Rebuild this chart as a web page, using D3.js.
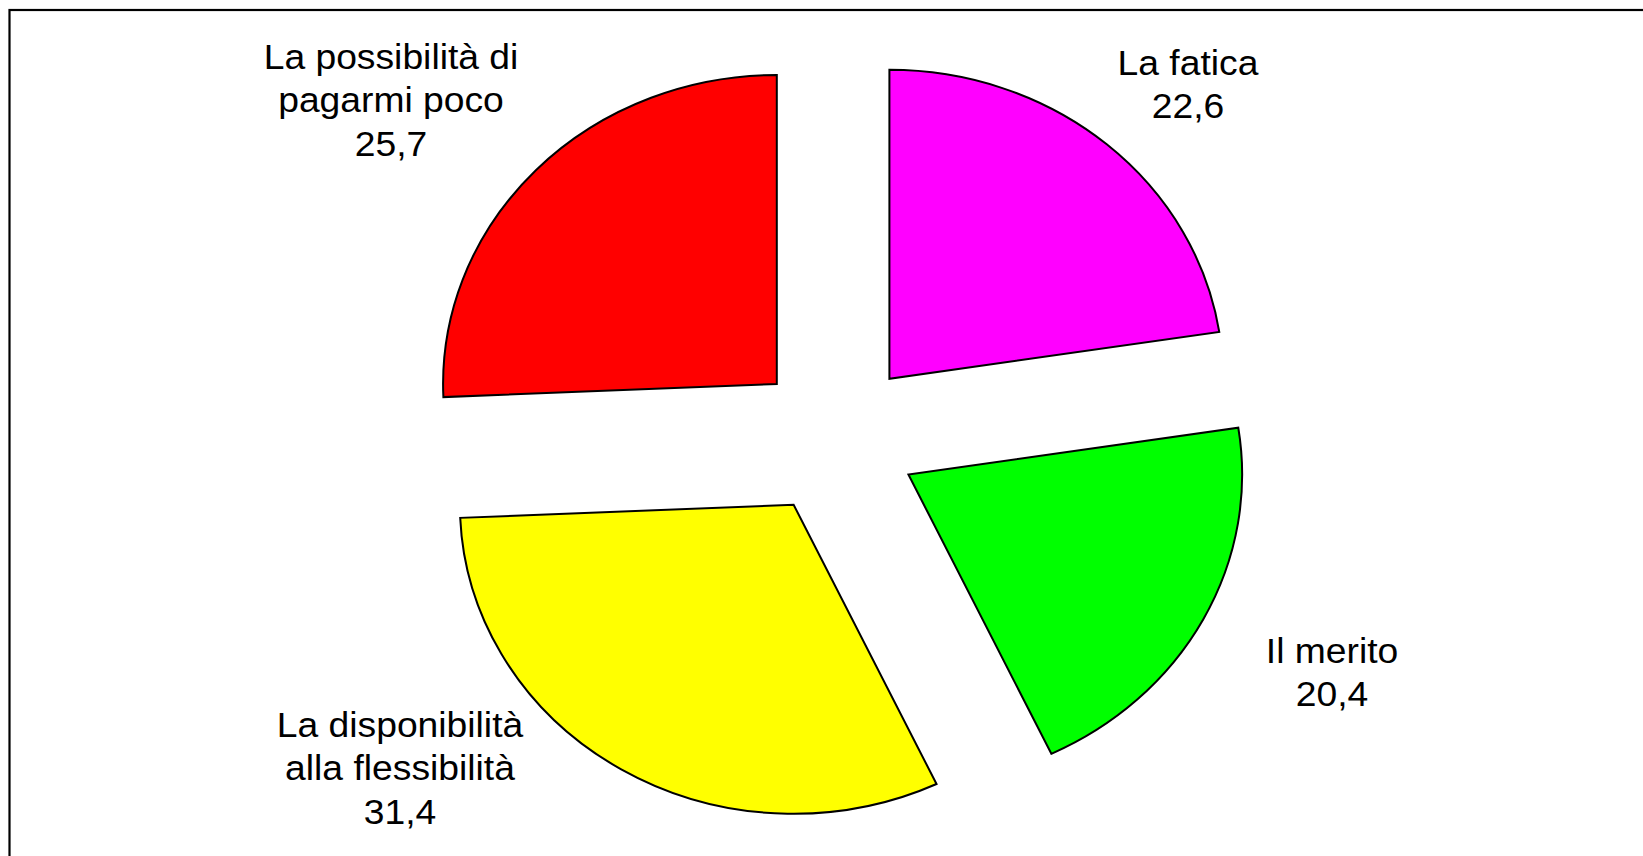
<!DOCTYPE html>
<html>
<head>
<meta charset="utf-8">
<script src="https://cdn.jsdelivr.net/npm/d3@7"></script>
<style>
  html, body { margin: 0; padding: 0; background: #fff; overflow: hidden; }
</style>
</head>
<body>
<div id="plot"></div>
<script>
// slice data, in drawing order (clockwise from 12 o'clock)
const categories = ["La fatica", "Il merito", "La disponibilità alla flessibilità", "La possibilità di pagarmi poco"];
const values = [22.6, 20.4, 31.4, 25.7];
const valueLabels = ["22,6", "20,4", "31,4", "25,7"];
const labelLines = [["La fatica"], ["Il merito"], ["La disponibilità", "alla flessibilità"], ["La possibilità di", "pagarmi poco"]];
const colors = ["#FF00FF", "#00FF00", "#FFFF00", "#FF0000"];

// layout
let width = 1643,
    height = 856;
let cx = 836, cy = 438;
let radius = 309;
let stretch = 1.08;   // the picture is wider than tall
let explodeX = 82, explodeY = 78;
let lineH = 43.5;
// where each label block sits (centre x, first baseline)
let labelAt = [[1188, 75], [1332, 663], [400, 737], [391, 69]];

let svg = d3.select('#plot')
  .append('svg')
    .attr('width', width)
    .attr('height', height)
    .style('display', 'block');

// frame of the chart area
svg.append('rect')
  .attr('x', 9.5)
  .attr('y', 10)
  .attr('width', width + 20)
  .attr('height', height + 20)
  .attr('fill', 'none')
  .attr('stroke', '#000')
  .attr('stroke-width', 2.2);

let pie = d3.pie().sort(null).value(d => d)(values);
let arc = d3.arc().innerRadius(0).outerRadius(radius);

// each slice pulled out along its middle angle
svg.selectAll('path.slice')
  .data(pie)
  .enter()
  .append('path')
    .attr('class', 'slice')
    .attr('d', arc)
    .attr('transform', d => {
      let mid = (d.startAngle + d.endAngle) / 2;
      let x = cx + explodeX * Math.sin(mid);
      let y = cy - explodeY * Math.cos(mid);
      return `translate(${x},${y}) scale(${stretch},1)`;
    })
    .attr('fill', (d, i) => colors[i])
    .attr('stroke', '#000')
    .attr('stroke-width', 2)
    .attr('stroke-linejoin', 'miter')
    .attr('vector-effect', 'non-scaling-stroke');

// labels
let labels = svg.selectAll('g.lab')
  .data(categories)
  .enter()
  .append('g')
    .attr('class', 'lab')
    .attr('transform', (d, i) => `translate(${labelAt[i][0]},${labelAt[i][1]}) scale(${stretch},1)`);

labels.append('text')
  .attr('text-anchor', 'middle')
  .attr('font-family', "'Liberation Sans', Arial, sans-serif")
  .attr('font-size', '34.5px')
  .attr('fill', '#000')
  .each(function(d, i) {
    let t = d3.select(this);
    labelLines[i].concat([valueLabels[i]]).forEach((line, k) => {
      t.append('tspan')
        .attr('x', 0)
        .attr('y', k * lineH)
        .text(line);
    });
  });
</script>
</body>
</html>
